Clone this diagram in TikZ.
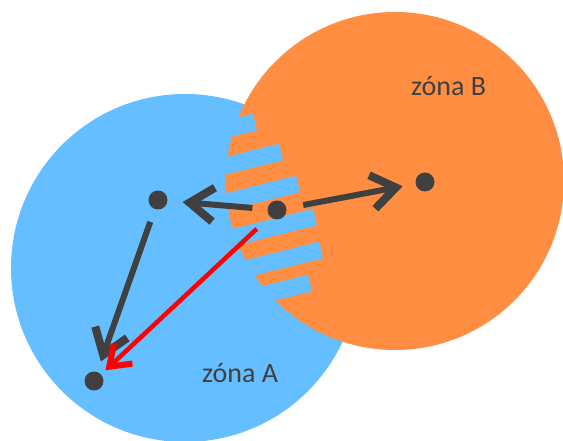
\documentclass[tikz,border=0pt]{standalone}
\usepackage{fontspec}
\setmainfont{Carlito}
\usetikzlibrary{arrows.meta}
\definecolor{zblue}{RGB}{100,190,255}
\definecolor{zorange}{RGB}{255,142,66}
\definecolor{zdark}{RGB}{64,64,64}
\definecolor{zred}{RGB}{255,0,0}
\begin{document}
\begin{tikzpicture}[x=1pt,y=-1pt,
  dot/.style={circle,fill=zdark,minimum size=19pt,inner sep=0pt},
  mv/.style={draw=zdark,line width=6pt,-{Straight Barb[length=24pt,width=34pt,line width=0pt 1.35]}},
  redmv/.style={draw=zred,line width=4.5pt,-{Straight Barb[length=19pt,width=27pt,line width=0pt 1.35]}},
  zlabel/.style={text=zdark,font=\fontsize{28}{32}\selectfont,inner sep=0pt,anchor=base west},
  cut/.style={fill=zblue}]
\useasboundingbox (0,0) rectangle (563,441);
\fill[zblue] (185,268) circle[radius=174];
\fill[zorange] (395,181) circle[radius=169];
\begin{scope}
  \clip (185,268) circle[radius=174];
  \foreach \px/\py in {255/122, 281/152, 298/184, 315/217, 321/250, 310/283}
    \fill[cut,shift={(\px,\py)},rotate=14] (-130,-8.5) rectangle (0,8.5);
\end{scope}
\node[dot] (d0) at (277,210) {};
\node[dot] (d1) at (158,200) {};
\node[dot] (d2) at (425,182) {};
\node[dot] (d3) at (94,381) {};
\draw[mv,shorten <=15pt,shorten >=15pt] (d0) -- (d1);
\draw[mv,shorten <=17pt,shorten >=13pt] (d0) -- (d2);
\draw[mv,shorten <=13.5pt,shorten >=11pt] (d1) -- (d3);
\draw[redmv,shorten <=18pt,shorten >=6pt] (d0) -- (d3);
\node[zlabel] (zb) at (411,96) {zóna B};
\node[zlabel] (za) at (202,382) {zóna A};
\end{tikzpicture}
\end{document}
